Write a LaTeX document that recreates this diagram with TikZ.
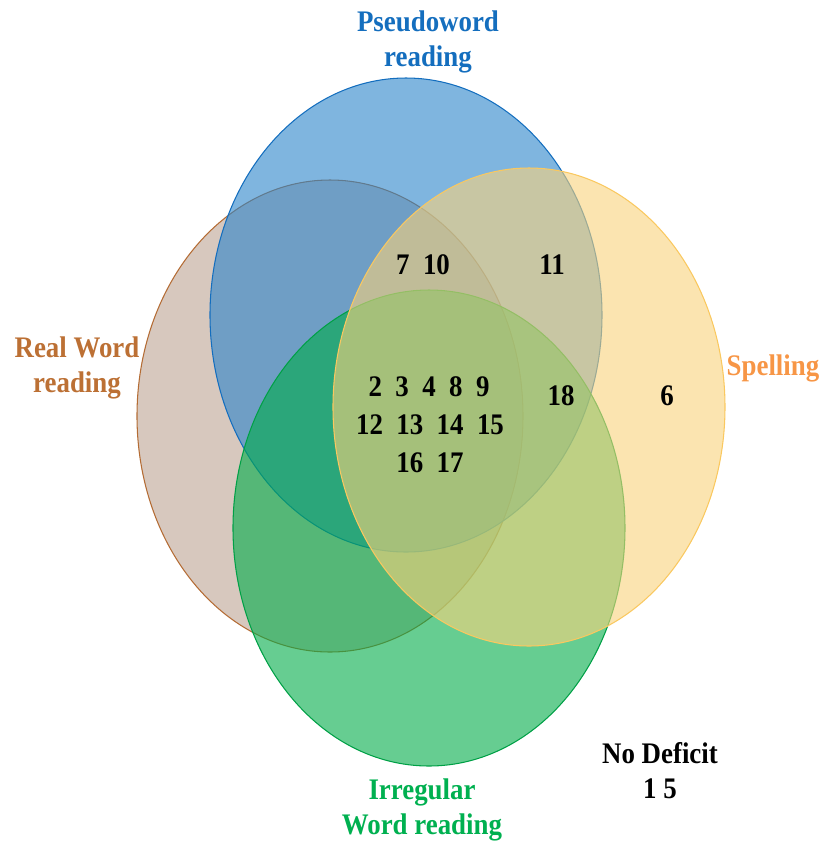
\documentclass[tikz,border=0pt]{standalone}
\usepackage{fontspec}
\setmainfont{Liberation Serif}[FakeStretch=0.9]
\usepackage{tikz}

\definecolor{pwblue}{RGB}{42,132,202}
\definecolor{pwline}{RGB}{20,110,190}
\definecolor{rwbrown}{RGB}{188,163,147}
\definecolor{rwline}{RGB}{180,108,52}
\definecolor{rwtext}{RGB}{188,112,52}
\definecolor{spyellow}{RGB}{248,210,123}
\definecolor{spline}{RGB}{250,200,95}
\definecolor{sptext}{RGB}{247,150,70}
\definecolor{irgreen}{RGB}{0,172,72}
\definecolor{irline}{RGB}{0,160,70}
\definecolor{irtext}{RGB}{0,176,80}

\tikzset{
  setfill/.style={fill=#1, fill opacity=0.6, line width=0.6pt},
  setlabel/.style={font=\fontsize{17pt}{20pt}\selectfont\bfseries, align=center, text=#1},
  count/.style={font=\fontsize{17pt}{20pt}\selectfont\bfseries}
}

\begin{document}
\begin{tikzpicture}[x=0.02cm, y=-0.02cm]
  \useasboundingbox (0,0) rectangle (829,850);
  % the four sets, bottom to top
  \draw[setfill=rwbrown, draw=rwline] (330,416) ellipse [x radius=193, y radius=236];
  \draw[setfill=pwblue, draw=pwline] (406,315) ellipse [x radius=196, y radius=237];
  \draw[setfill=irgreen, draw=irline] (429,528) ellipse [x radius=196, y radius=238];
  \draw[setfill=spyellow, draw=spline] (529,407) ellipse [x radius=196, y radius=239];
  % set names
  \node[setlabel=pwline] (pseudo) at (428,42) {Pseudoword\\reading};
  \node[setlabel=rwtext] (real) at (77,368) {Real Word\\reading};
  \node[setlabel=sptext] (spell) at (773,368) {Spelling};
  \node[setlabel=irtext] (irreg) at (422,810) {Irregular\\Word reading};
  \node[setlabel=black] (nodef) at (660,771) {No Deficit\\1 5};
  % participants in each region
  \node[count] (pwrw) at (423,265) {7\ \ 10};
  \node[count] (pwsp) at (552,265) {11};
  \node[count] (allA) at (429,387) {2\ \ 3\ \ 4\ \ 8\ \ 9};
  \node[count] (allB) at (430,425) {12\ \ 13\ \ 14\ \ 15};
  \node[count] (allC) at (430,463) {16\ \ 17};
  \node[count] (pwspir) at (561,396) {18};
  \node[count] (sponly) at (667,396) {6};
\end{tikzpicture}
\end{document}
